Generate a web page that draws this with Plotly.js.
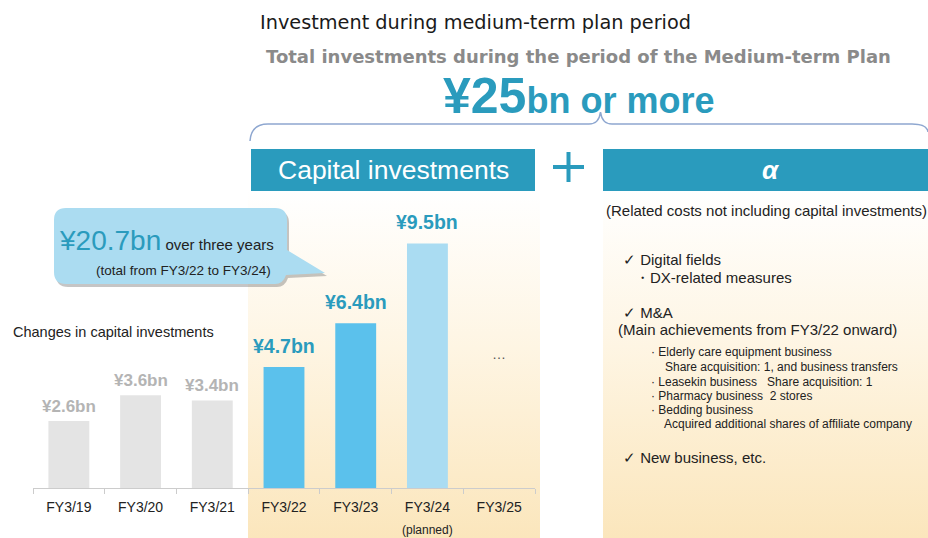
<!DOCTYPE html>
<html>
<head>
<meta charset="utf-8">
<script src="https://cdn.plot.ly/plotly-3.0.1.min.js"></script>
<style>
html,body{margin:0;padding:0;background:#fff;}
#chart{width:928px;height:538px;}
</style>
</head>
<body>
<div id="chart"></div>
<script>
// ---- data ----
const categories = ['FY3/19', 'FY3/20', 'FY3/21', 'FY3/22', 'FY3/23', 'FY3/24', 'FY3/25'];
const capex = [2.6, 3.6, 3.4, 4.7, 6.4, 9.5, null];          // ¥bn
const status = ['past', 'past', 'past', 'plan', 'plan', 'planned', 'none'];
const totalThreeYears = 20.7;   // ¥bn FY3/22-FY3/24
const totalTarget = 25;         // ¥bn or more

const alphaItems = [
  {text: '\u2713 Digital fields', x: 621, y: 259, size: 15},
  {text: '\u30FBDX-related measures', x: 633, y: 277, size: 15},
  {text: '\u2713 M&A', x: 621, y: 312, size: 15},
  {text: '(Main achievements from FY3/22 onward)', x: 616, y: 329, size: 15},
  {text: '\u00B7 Elderly care equipment business', x: 649, y: 352, size: 12},
  {text: 'Share acquisition: 1, and business transfers', x: 663, y: 367, size: 12},
  {text: '\u00B7 Leasekin business\u00A0\u00A0 Share acquisition: 1', x: 649, y: 382, size: 12},
  {text: '\u00B7 Pharmacy business\u00A0 2 stores', x: 649, y: 396, size: 12},
  {text: '\u00B7 Bedding business', x: 649, y: 410, size: 12},
  {text: 'Acquired additional shares of affiliate company', x: 662, y: 424, size: 12},
  {text: '\u2713 New business, etc.', x: 621, y: 457, size: 15}
];

// ---- styling ----
const TEAL = '#2a9bbd';
const FONT = 'Liberation Sans, Arial, sans-serif';
const colorFor = {past: '#e4e4e4', plan: '#5bc1ec', planned: '#aadcf2', none: 'rgba(0,0,0,0)'};

const W = 928, H = 538;
const baseY = 488, topY = 200, pxPerBn = 25.75;

const barColors = status.map(s => colorFor[s]);

const traces = [];
function gradRect(x0, x1, y0, y1) {
  return {
    type: 'scatter', mode: 'lines', xaxis: 'x', yaxis: 'y',
    x: [x0, x1, x1, x0, x0], y: [y0, y0, y1, y1, y0],
    fill: 'toself', line: {width: 0, color: 'rgba(0,0,0,0)'},
    fillgradient: {type: 'vertical', start: y0, stop: y1,
      colorscale: [[0, '#ffffff'], [0.45, '#fef5e3'], [1, '#fbe6bc']]},
    hoverinfo: 'skip', showlegend: false
  };
}
traces.push(gradRect(248, 540, 192, 538));
traces.push(gradRect(603, 928, 191, 538));

// bars
traces.push({
  type: 'bar', xaxis: 'x2', yaxis: 'y2',
  x: categories, y: capex,
  marker: {color: barColors, line: {width: 0}},
  hoverinfo: 'skip', showlegend: false
});

const annotations = [];
function ann(text, x, y, o) {
  o = o || {};
  annotations.push(Object.assign({
    text: text, x: x, y: y, xref: 'x', yref: 'y', showarrow: false,
    xanchor: 'left', yanchor: 'middle',
    font: {family: FONT, size: 14, color: '#222'}
  }, o));
}

// value labels
categories.forEach((c, i) => {
  const v = capex[i];
  if (v === null) return;
  const past = status[i] === 'past';
  annotations.push({
    text: '\u00A5' + v.toFixed(1) + 'bn', x: c, y: v, xref: 'x2', yref: 'y2',
    showarrow: false, xanchor: 'center', yanchor: 'middle', yshift: past ? 15 : 21,
    font: {family: FONT, size: past ? 17 : 19.5, color: past ? '#b4b4b4' : TEAL, weight: 'bold'}
  });
});
annotations.push({text: '(planned)', x: categories[5], y: 530, xref: 'x2', yref: 'y',
  showarrow: false, xanchor: 'center', yanchor: 'middle', font: {family: FONT, size: 12, color: '#222'}});
annotations.push({text: '\u2026', x: categories[6], y: 354, xref: 'x2', yref: 'y',
  showarrow: false, xanchor: 'center', yanchor: 'middle', font: {family: FONT, size: 14, color: '#555'}});

// titles
ann('Investment during medium-term plan period', 258, 22, {font: {family: 'DejaVu Sans, sans-serif', size: 19.3, color: '#1a1a1a'}});
ann('Total investments during the period of the Medium-term Plan', 578, 56,
  {xanchor: 'center', font: {family: 'DejaVu Sans, sans-serif', size: 18, color: '#8a8a8a', weight: 'bold'}});
ann('\u00A5' + totalTarget + '<span style="font-size:36px">bn or more</span>', 578, 96,
  {xanchor: 'center', font: {family: FONT, size: 50, color: TEAL, weight: 'bold'}});

// header boxes text
ann('Capital investments', 393, 170, {xanchor: 'center', font: {family: FONT, size: 26.5, color: '#ffffff'}});
ann('<i>\u03B1</i>', 771, 170, {xanchor: 'center', font: {family: FONT, size: 26, color: '#ffffff', weight: 'bold'}});

// callout
ann('<span style="font-size:28px;color:' + TEAL + '">\u00A5' + totalThreeYears + 'bn</span> over three years', 57, 240,
  {font: {family: FONT, size: 15, color: '#222'}});
ann('(total from FY3/22 to FY3/24)', 273, 270, {xanchor: 'right', font: {family: FONT, size: 13.5, color: '#222'}});

ann('Changes in capital investments', 11, 332, {font: {family: FONT, size: 14.5, color: '#222'}});

// alpha panel
ann('(Related costs not including capital investments)', 604, 210, {font: {family: FONT, size: 15, color: '#222'}});
alphaItems.forEach(it => ann(it.text, it.x, it.y, {font: {family: FONT, size: it.size, color: '#222'}}));

// shapes (pixel coords)
const shapes = [];
function sh(o) { shapes.push(Object.assign({xref: 'x', yref: 'y'}, o)); }
sh({type: 'rect', x0: 251, x1: 535, y0: 149, y1: 191, fillcolor: TEAL, line: {width: 0}, layer: 'below'});
sh({type: 'rect', x0: 603, x1: 928, y0: 149, y1: 191, fillcolor: TEAL, line: {width: 0}, layer: 'below'});
sh({type: 'line', x0: 553, x1: 584, y0: 167, y1: 167, line: {color: TEAL, width: 4}, layer: 'above'});
sh({type: 'line', x0: 568.5, x1: 568.5, y0: 152, y1: 182, line: {color: TEAL, width: 4}, layer: 'above'});
sh({type: 'path', path: 'M 250 141 Q 251 124 268 124 L 589 124 Q 599 124 600.5 112 Q 602 124 612 124 L 912 124 Q 927 124 928 132',
  line: {color: '#8ea7d0', width: 1.5}, layer: 'above'});
const bubble = (dx, dy) => {
  const p = (x, y) => (x + dx) + ' ' + (y + dy);
  return 'M ' + p(66, 208) + ' L ' + p(275, 208) + ' Q ' + p(287, 208) + ' ' + p(287, 220) +
    ' L ' + p(287, 250) + ' L ' + p(325, 273) + ' L ' + p(286, 275) + ' Q ' + p(283, 284) + ' ' + p(275, 284) +
    ' L ' + p(66, 284) + ' Q ' + p(54, 284) + ' ' + p(54, 272) + ' L ' + p(54, 220) + ' Q ' + p(54, 208) + ' ' + p(66, 208) + ' Z';
};
sh({type: 'path', path: bubble(2, 3), fillcolor: 'rgba(90,90,90,0.35)', line: {width: 0}, layer: 'above'});
sh({type: 'path', path: bubble(0, 0), fillcolor: '#abdcf1', line: {width: 0}, layer: 'above'});

const layout = {
  width: W, height: H,
  margin: {l: 0, r: 0, t: 0, b: 0, pad: 0},
  paper_bgcolor: '#ffffff', plot_bgcolor: 'rgba(0,0,0,0)',
  showlegend: false,
  xaxis: {domain: [0, 1], range: [0, W], visible: false, fixedrange: true},
  yaxis: {domain: [0, 1], range: [H, 0], visible: false, fixedrange: true},
  xaxis2: {domain: [33 / W, 535 / W], anchor: 'y2', type: 'category',
    showline: true, linecolor: '#cccccc', linewidth: 1, showgrid: false, zeroline: false,
    ticks: 'outside', tickson: 'boundaries', ticklen: 5, tickcolor: '#cccccc', tickwidth: 1,
    tickfont: {family: FONT, size: 14, color: '#222'}, ticklabelstandoff: 6, fixedrange: true, automargin: false},
  yaxis2: {domain: [(H - baseY) / H, (H - topY) / H], anchor: 'x2',
    range: [0, (baseY - topY) / pxPerBn], visible: false, fixedrange: true},
  bargap: 0.43,
  annotations: annotations,
  shapes: shapes
};

Plotly.newPlot('chart', traces, layout, {displayModeBar: false, staticPlot: true});
</script>
</body>
</html>
